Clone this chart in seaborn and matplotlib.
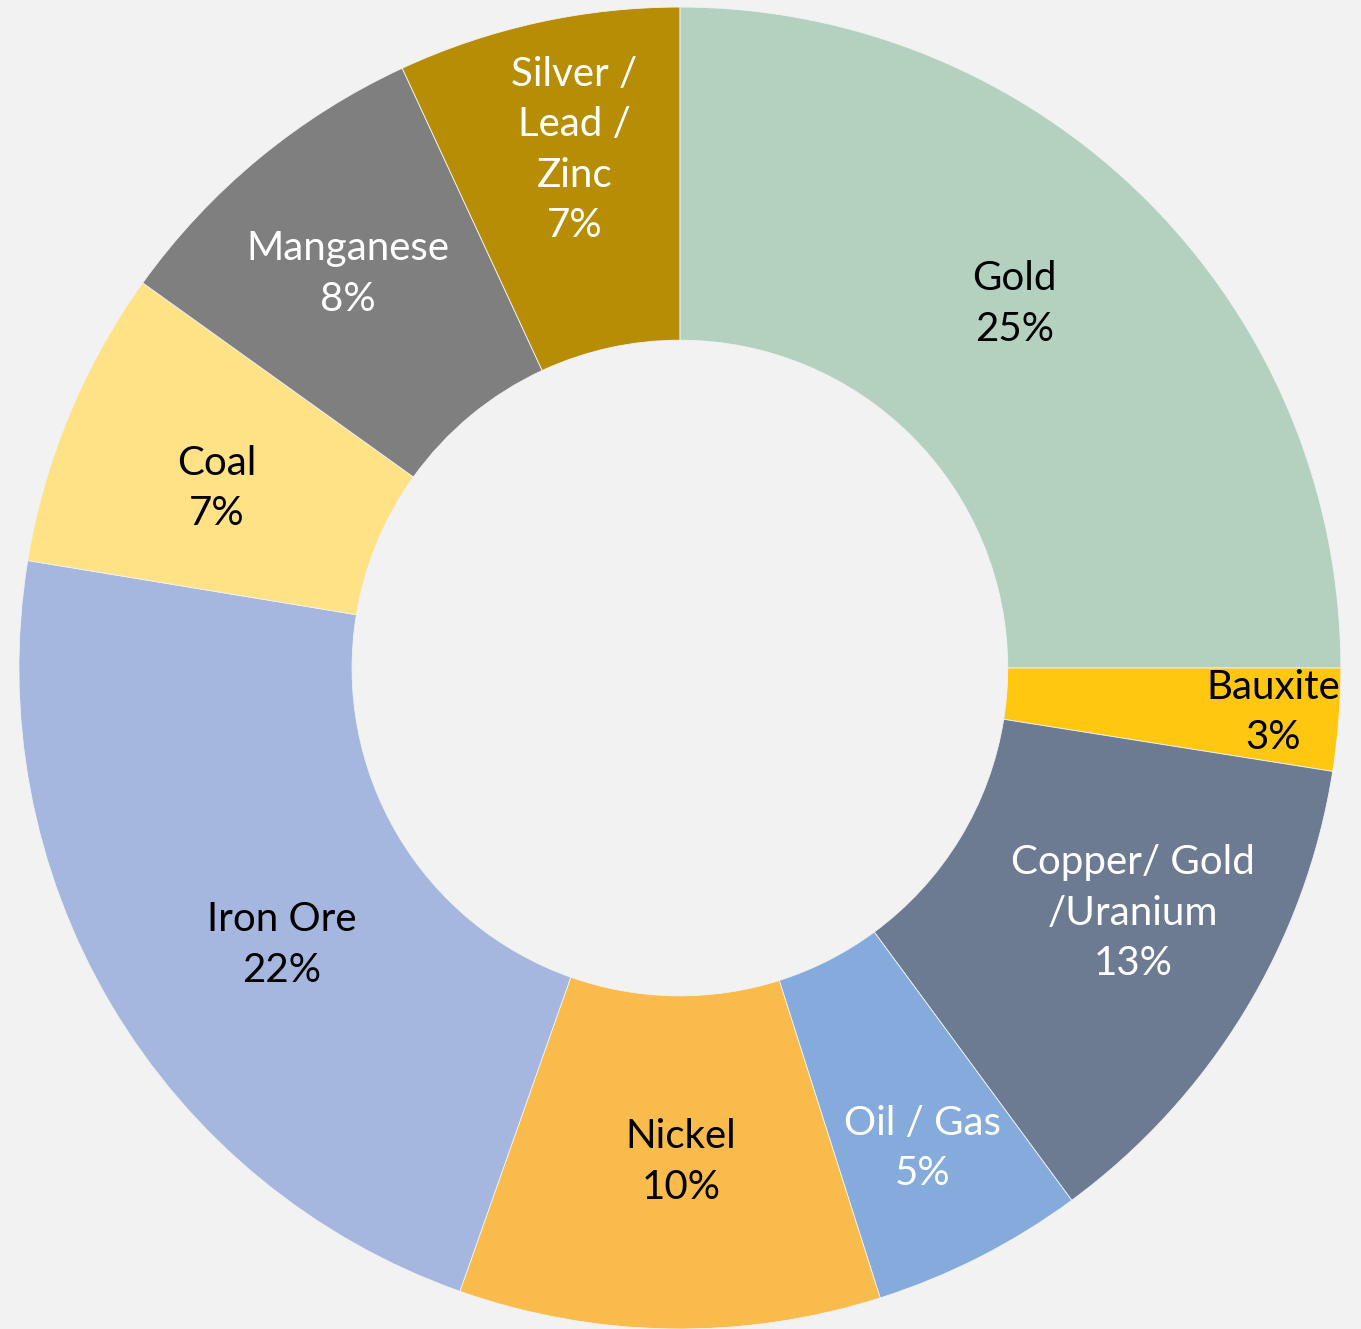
import numpy as np
import seaborn as sns
import matplotlib.pyplot as plt

# commodity split, clockwise from 12 o'clock
labels = ['Gold', 'Bauxite', 'Copper/ Gold\n/Uranium', 'Oil / Gas', 'Nickel',
          'Iron Ore', 'Coal', 'Manganese', 'Silver /\nLead /\nZinc']
values = [25.0, 2.5, 12.4, 5.2, 10.3, 22.2, 7.3, 8.2, 6.9]
pct_text = ['25%', '3%', '13%', '5%', '10%', '22%', '7%', '8%', '7%']

colors = ['#B4D1BF', '#FFC70F', '#6C7B92', '#84ABDC', '#F8BB4C',
          '#A5B7DE', '#FFE186', '#7F7F7F', '#B68D04']
text_colors = ['black', 'black', 'white', 'white', 'black',
               'black', 'black', 'white', 'white']
# label placement: radius (fraction of outer) and small angle nudge in degrees
label_r = [0.748, 0.90, 0.78, 0.814, 0.747, 0.734, 0.752, 0.779, 0.80]
label_nudge = [2.4, 0.2, 2.9, -0.2, 1.0, 4.2, 1.3, 0.5, -0.9]

sns.set_style('white')
plt.rcParams['font.family'] = ['Lato', 'DejaVu Sans']

bg = '#F2F2F2'
fig = plt.figure(figsize=(13.61, 13.29), dpi=100, facecolor=bg)
ax = fig.add_axes([0.4996 - 0.4857, 0.0, 0.9713, 0.9947])
ax.set_facecolor(bg)

wedges, _ = ax.pie(values, colors=colors, startangle=90, counterclock=False,
                   radius=1.0, wedgeprops=dict(width=0.504, edgecolor=bg, linewidth=0.6))

for w, lab, pct, tc, r, nd in zip(wedges, labels, pct_text, text_colors, label_r, label_nudge):
    mid = np.deg2rad((w.theta1 + w.theta2) / 2 + nd)
    ax.text(r * np.cos(mid), r * np.sin(mid), f'{lab}\n{pct}', ha='center', va='center',
            color=tc, fontsize=29, linespacing=1.45)

ax.set_xlim(-1, 1)
ax.set_ylim(-1, 1)
ax.axis('off')

fig.savefig('out.png', dpi=100, facecolor=bg)
